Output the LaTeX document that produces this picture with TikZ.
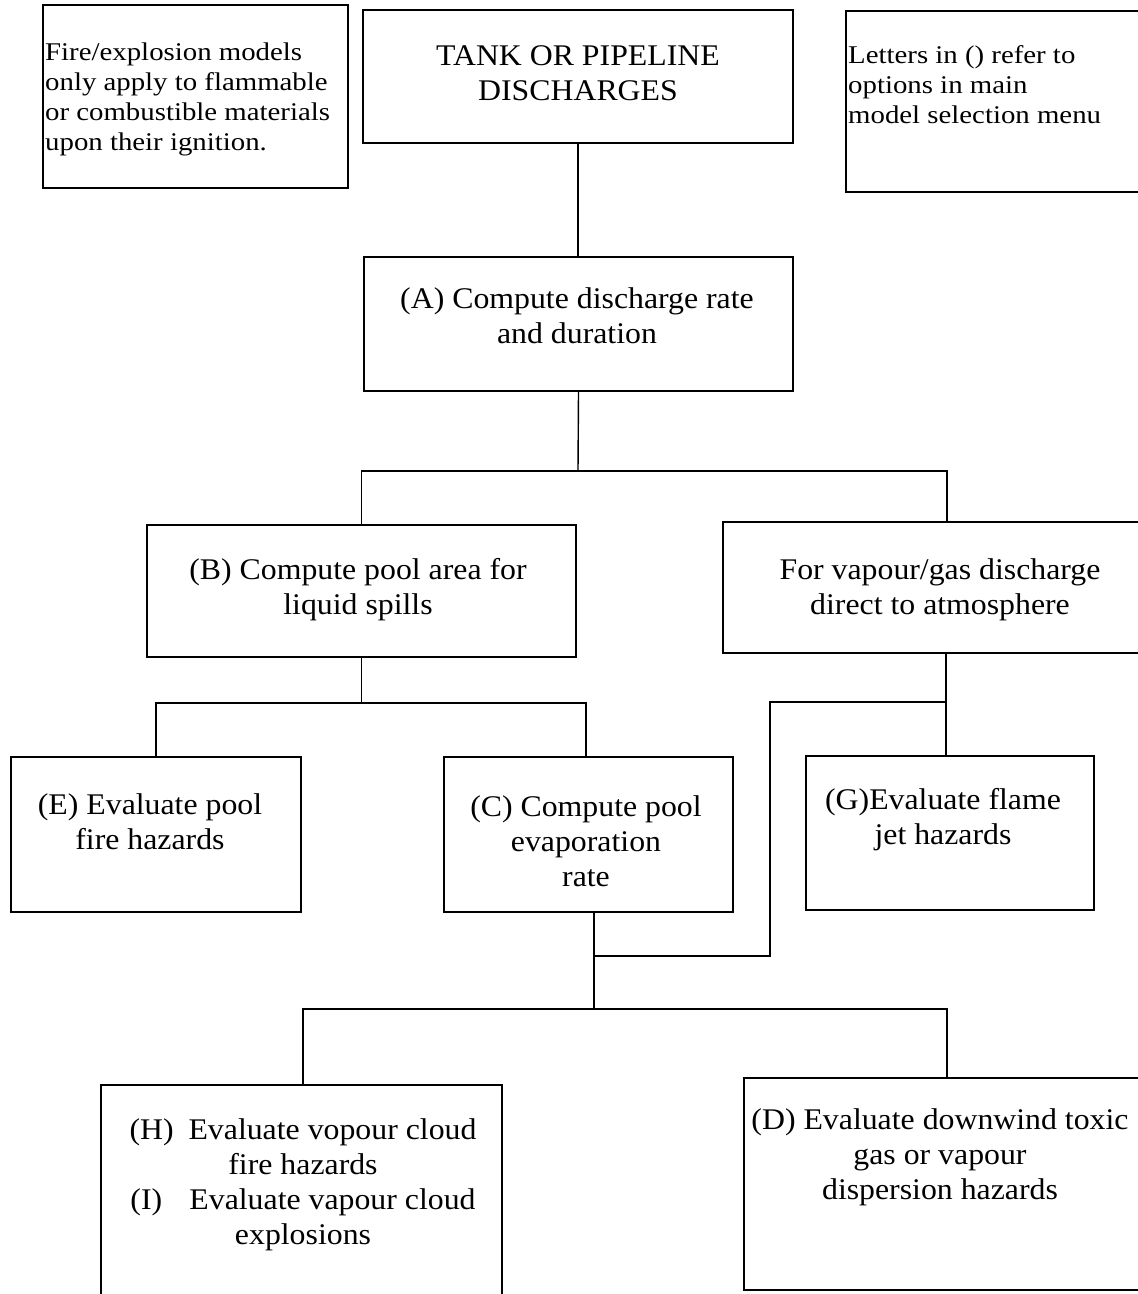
\documentclass[tikz,border=0pt]{standalone}
\usepackage{fontspec}
\setmainfont{Liberation Serif}[FakeStretch=1.06]
\newfontfamily\notefont{Liberation Serif}[FakeStretch=1.13]
\begin{document}
\begin{tikzpicture}[x=1pt,y=-1pt,
  box/.style={draw, line width=1.8pt, rectangle, inner sep=0pt},
  conn/.style={line width=1.4pt},
  txt/.style={align=center, font=\fontsize{30}{35}\selectfont, inner sep=0pt},
  notetxt/.style={align=left, font=\notefont\fontsize{25.5}{30}\selectfont, inner sep=0pt, anchor=west}]
\useasboundingbox (0,0) rectangle (1138,1294);
\clip (0,0) rectangle (1138,1294);

% boxes
\node[box, minimum width=305pt, minimum height=183pt] (note1) at (195.5,96.5) {};
\node[box, minimum width=430pt, minimum height=133pt] (top) at (578,76.5) {};
\node[box, minimum width=314pt, minimum height=181pt] (note2) at (1003,101.5) {};
\node[box, minimum width=429pt, minimum height=134pt] (A) at (578.5,324) {};
\node[box, minimum width=429pt, minimum height=132pt] (B) at (361.5,591) {};
\node[box, minimum width=437pt, minimum height=131pt] (V) at (941.5,587.5) {};
\node[box, minimum width=290pt, minimum height=155pt] (E) at (156,834.5) {};
\node[box, minimum width=289pt, minimum height=155pt] (C) at (588.5,834.5) {};
\node[box, minimum width=288pt, minimum height=154pt] (G) at (950,833) {};
\node[box, minimum width=401pt, minimum height=225pt] (H) at (301.5,1197.5) {};
\node[box, minimum width=416pt, minimum height=212pt] (D) at (952,1184) {};

% texts
\node[notetxt] (note1t) at (45,99) {Fire/explosion models\\only apply to flammable\\or combustible materials\\upon their ignition.};
\node[notetxt] (note2t) at (848,85) {Letters in () refer to\\options in main\\model selection menu};
\node[txt] (topt) at (578,73) {TANK OR PIPELINE\\DISCHARGES};
\node[txt] (At) at (577,316) {(A) Compute discharge rate\\and duration};
\node[txt] (Bt) at (358,590) {(B) Compute pool area for\\liquid spills};
\node[txt] (Vt) at (940,590) {For vapour/gas discharge\\direct to atmosphere};
\node[txt] (Et) at (150,822) {(E) Evaluate pool\\fire hazards};
\node[txt] (Ct) at (586,841) {(C) Compute pool\\evaporation\\rate};
\node[txt] (Gt) at (943,820) {(G)Evaluate flame\\jet hazards};
\node[txt] (Ht) at (303,1185) {\makebox[59pt][l]{(H)}Evaluate vopour cloud\\fire hazards\\\makebox[59pt][l]{(I)}Evaluate vapour cloud\\explosions};
\node[txt] (Dt) at (940,1157) {(D) Evaluate downwind toxic\\gas or vapour\\dispersion hazards};

% connector points
\coordinate (j1) at (578,471);
\coordinate (Vtop) at (947,522);
\coordinate (j2) at (361.5,703);
\coordinate (Ctop) at (586,757);
\coordinate (Vbot) at (946,653);
\coordinate (Gtop) at (946,756);
\coordinate (j3) at (946,702);
\coordinate (k1) at (770,702);
\coordinate (k2) at (770,956);
\coordinate (j4) at (594,956);
\coordinate (Cbot) at (594,912);
\coordinate (j5) at (594,1009);
\coordinate (Htop) at (303,1085);
\coordinate (Dtop) at (947,1078);

% connectors
\draw[conn] (top.south) -- (top.south |- A.north);
\draw[conn] (A.south) -- (j1);
\draw[conn] (B.north) |- (j1) -| (Vtop);
\draw[conn] (B.south) -- (j2);
\draw[conn] (E.north) |- (j2) -| (Ctop);
\draw[conn] (Vbot) -- (Gtop);
\draw[conn] (j3) -- (k1) -- (k2) -- (j4);
\draw[conn] (Cbot) -- (j5);
\draw[conn] (Htop) |- (j5) -| (Dtop);
\end{tikzpicture}
\end{document}
